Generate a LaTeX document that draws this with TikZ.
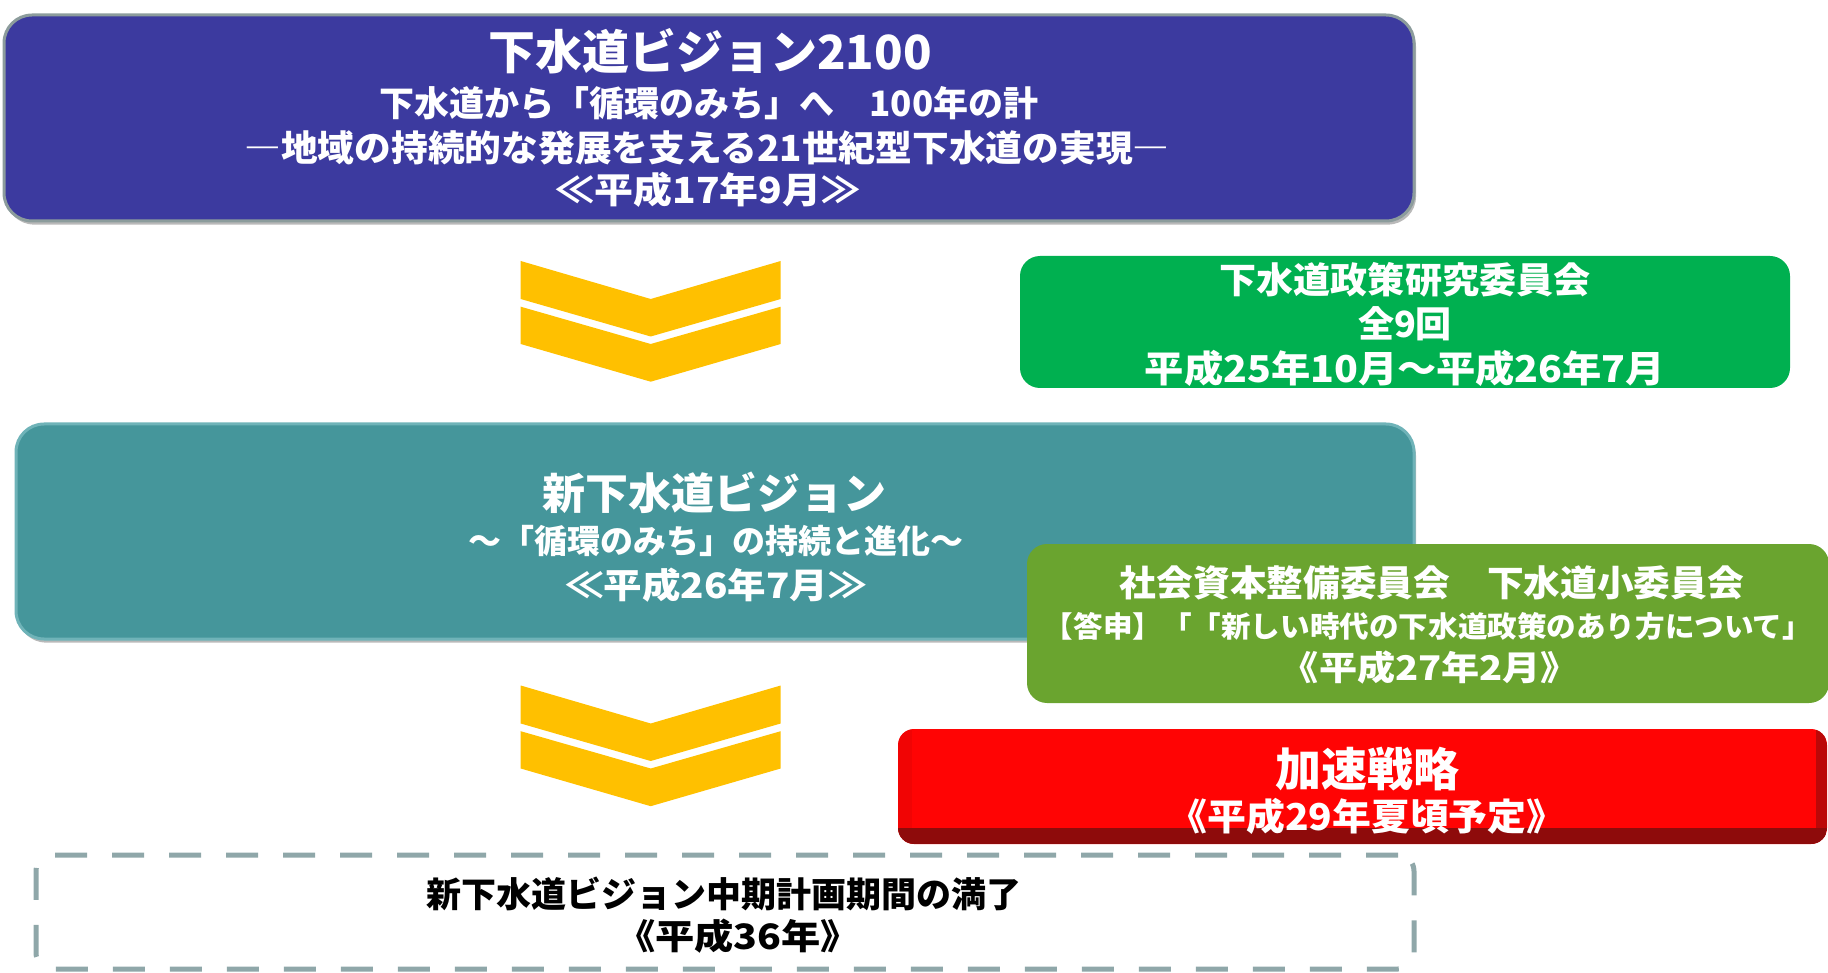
\documentclass[tikz,border=0pt]{standalone}
\usepackage{fontspec}
\usepackage{graphicx}
\setmainfont{Noto Sans CJK JP}
\usetikzlibrary{shadows}
\definecolor{vblue}{HTML}{3C3A9F}
\definecolor{vgray}{HTML}{8C9C9C}
\definecolor{vteal}{HTML}{45969B}
\definecolor{vteallight}{HTML}{6FB3B8}
\definecolor{vgreen}{HTML}{00B050}
\definecolor{volive}{HTML}{6AA42F}
\definecolor{vred}{HTML}{FF0404}
\definecolor{vdarkred}{HTML}{8E0B0B}
\definecolor{vgold}{HTML}{FFC000}
\definecolor{vdash}{HTML}{8FA7A9}
\newcommand{\fsz}[1]{\fontsize{#1}{#1}\selectfont}
\newcommand{\wid}[2]{\scalebox{#1}[1]{#2}}
\begin{document}
\begin{tikzpicture}[x=0.5pt,y=-0.5pt,
  boxbase/.style={anchor=north west,inner sep=0pt,outer sep=0pt},
  bigbox/.style={boxbase,rounded corners=14pt,line width=1.5pt,
     drop shadow={opacity=0.55,shadow xshift=1pt,shadow yshift=-1.8pt}},
  flatbox/.style={boxbase,rounded corners=10pt},
  wtxt/.style={text=white,font=\bfseries,inner sep=0pt,anchor=center},
  btxt/.style={text=black,font=\bfseries,inner sep=0pt,anchor=center},
  chevron/.pic={
    \fill[vgold] (-130,0) -- (0,38) -- (130,0) -- (130,38) -- (0,75.5) -- (-130,38) -- cycle;
    \fill[vgold] (-130,45.7) -- (0,83) -- (130,45.7) -- (130,83) -- (0,120.7) -- (-130,83) -- cycle;
  }]
\useasboundingbox (0,0) rectangle (1828,973);

% top box
\node[bigbox,draw=vgray,fill=vblue,minimum width=705pt,minimum height=103pt] (vision2100) at (4,15) {};
\node[wtxt] (t1) at (710,51) {\fsz{23.5pt}下水道ビジョン2100};
\node[wtxt] (t2) at (709,103) {\fsz{17.5pt}下水道から「循環のみち」へ　100年の計};
\node[wtxt] (t3) at (707,148) {\fsz{18pt}\wid{1.02}{―地域の持続的な発展を支える21世紀型下水道の実現―}};
\node[wtxt] (t4) at (708,190) {\fsz{18pt}\wid{1.08}{≪平成17年9月≫}};

% chevrons
\pic (chevA) at (650.7,261) {chevron};
\pic (chevB) at (650.7,685.5) {chevron};

% green box
\node[flatbox,fill=vgreen,minimum width=385pt,minimum height=66pt] (kenkyu) at (1020,256) {};
\node[wtxt] (g1) at (1405,280) {\fsz{18pt}\wid{1.03}{下水道政策研究委員会}};
\node[wtxt] (g2) at (1405,324) {\fsz{18pt}全9回};
\node[wtxt] (g3) at (1405,368) {\fsz{18.5pt}\wid{1.06}{平成25年10月～平成26年7月}};

% teal box
\node[bigbox,draw=vteallight,fill=vteal,minimum width=699pt,minimum height=107.5pt] (newvision) at (16,424) {};
\node[wtxt] (n1) at (714,493) {\fsz{21.5pt}新下水道ビジョン};
\node[wtxt] (n2) at (716,541) {\fsz{16.5pt}～「循環のみち」の持続と進化～};
\node[wtxt] (n3) at (716,585) {\fsz{17.5pt}\wid{1.1}{≪平成26年7月≫}};

% olive box
\node[flatbox,fill=volive,minimum width=401pt,minimum height=79.5pt] (shoiinkai) at (1027,544) {};
\node[wtxt] (o1) at (1432,583) {\fsz{18pt}\wid{1.02}{社会資本整備委員会　下水道小委員会}};
\node[wtxt] (o2) at (1428,626) {\fsz{14.5pt}\wid{1.02}{【答申】「「新しい時代の下水道政策のあり方について」}};
\node[wtxt] (o3) at (1430,668) {\fsz{17pt}\wid{1.12}{《平成27年2月》}};

% red box
\node[boxbase,rounded corners=8pt,fill=vred,minimum width=464.5pt,minimum height=57.5pt] (kasoku) at (898,729) {};
\begin{scope}
  \clip[rounded corners=8pt] (898,729) rectangle (1827,844);
  \fill[vdarkred] (898,828) rectangle (1827,844);
  \fill[vdarkred,opacity=0.6] (1816,729) rectangle (1827,844);
  \fill[vdarkred,opacity=0.12] (898,729) rectangle (912,828);
\end{scope}
\node[wtxt] (r1) at (1367,769) {\fsz{23pt}加速戦略};
\node[wtxt] (r2) at (1367,816) {\fsz{18.5pt}\wid{1.05}{《平成29年夏頃予定》}};

% dashed box
\node[boxbase,rounded corners=8pt,draw=vdash,line width=2.5pt,dash pattern=on 16pt off 12.5pt,
      minimum width=689pt,minimum height=57pt] (manryo) at (36,855) {};
\node[btxt] (d1) at (724,894) {\fsz{17.5pt}新下水道ビジョン中期計画期間の満了};
\node[btxt] (d2) at (738,936) {\fsz{17.5pt}\wid{1.12}{《平成36年》}};
\end{tikzpicture}
\end{document}
